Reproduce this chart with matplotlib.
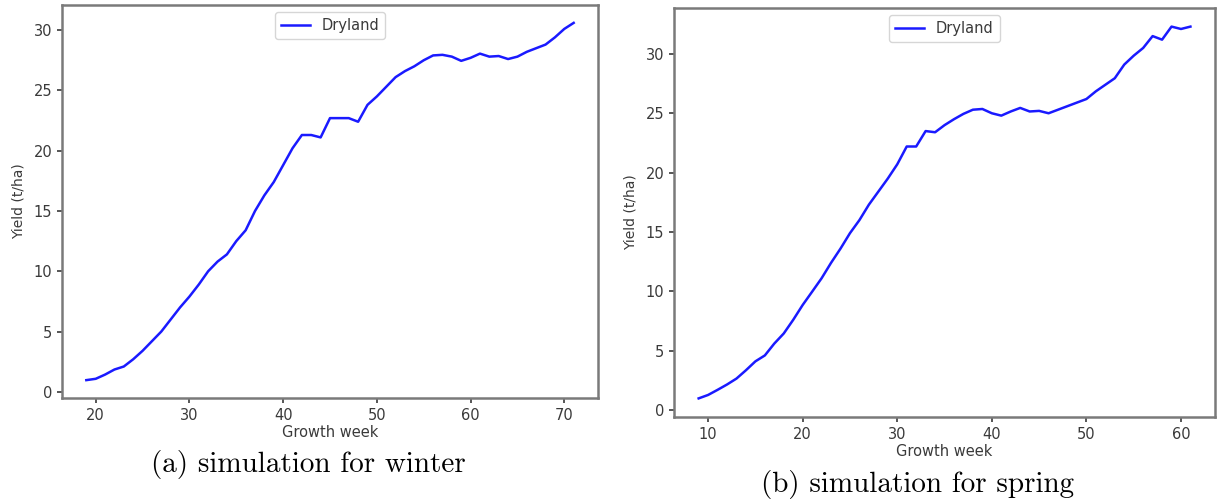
import matplotlib.pyplot as plt

# yield per growth week, dryland
winter_weeks = list(range(19, 72))
winter_yield = [0.97, 1.08, 1.43, 1.85, 2.1, 2.7, 3.4, 4.2, 5.0, 6.0,
                7.0, 7.9, 8.9, 10.0, 10.8, 11.4, 12.5, 13.4, 15.0, 16.3,
                17.4, 18.8, 20.2, 21.3, 21.3, 21.1, 22.7, 22.7, 22.7, 22.4,
                23.8, 24.5, 25.3, 26.1, 26.6, 27.0, 27.5, 27.9, 27.95, 27.8,
                27.45, 27.7, 28.05, 27.8, 27.85, 27.6, 27.8, 28.2, 28.5, 28.8,
                29.4, 30.1, 30.6]

spring_weeks = list(range(9, 62))
spring_yield = [0.98, 1.27, 1.7, 2.15, 2.65, 3.35, 4.1, 4.6, 5.6, 6.45,
                7.6, 8.85, 9.97, 11.1, 12.4, 13.6, 14.9, 16.0, 17.3, 18.4,
                19.5, 20.7, 22.2, 22.2, 23.5, 23.4, 24.0, 24.5, 24.95, 25.3,
                25.36, 25.0, 24.8, 25.15, 25.45, 25.15, 25.2, 25.0, 25.3, 25.6,
                25.9, 26.2, 26.85, 27.4, 27.95, 29.1, 29.85, 30.5, 31.5, 31.2,
                32.3, 32.1, 32.3]

TEXT = '#3a3a3a'
SPINE = '#7a7a7a'

fig = plt.figure(figsize=(12.22, 5.01), dpi=100)
ax1 = fig.add_axes([0.0507, 0.2056, 0.4387, 0.7844])
ax2 = fig.add_axes([0.5516, 0.1677, 0.4427, 0.8163])

panels = [(ax1, winter_weeks, winter_yield), (ax2, spring_weeks, spring_yield)]
for ax, weeks, yld in panels:
    ax.plot(weeks, yld, color='#1a1aff', linewidth=1.8, label='Dryland')
    ax.set_xlabel('Growth week', fontsize=10.5, color=TEXT, labelpad=2)
    ax.set_ylabel('Yield (t/ha)', fontsize=10, color=TEXT, labelpad=6)
    ax.tick_params(labelsize=10.5, colors=TEXT, width=1.2)
    for sp in ax.spines.values():
        sp.set_color(SPINE)
        sp.set_linewidth(1.8)
    leg = ax.legend(loc='upper center', fontsize=10.5, handlelength=2.0)
    for t in leg.get_texts():
        t.set_color(TEXT)

fig.text(0.252, 0.073, '(a) simulation for winter', fontfamily='cmr10',
         fontsize=21, ha='center', va='center')
fig.text(0.751, 0.032, '(b) simulation for spring', fontfamily='cmr10',
         fontsize=21, ha='center', va='center')

fig.savefig('out.png', dpi=100)
